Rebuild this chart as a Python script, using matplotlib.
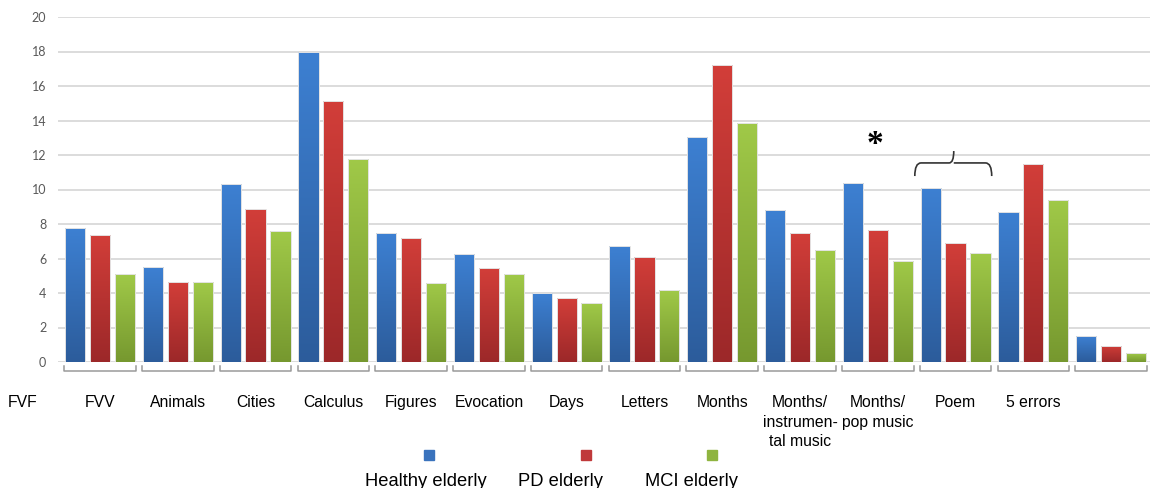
import matplotlib
matplotlib.use('Agg')
import matplotlib.pyplot as plt
import numpy as np
from matplotlib.path import Path
from matplotlib.patches import PathPatch
from matplotlib.lines import Line2D
from matplotlib.colors import LinearSegmentedColormap

# category labels (in the original the label row sits one group to the left)
categories = ['FVF', 'FVV', 'Animals', 'Cities', 'Calculus', 'Figures', 'Evocation', 'Days',
              'Letters', 'Months', 'Months/\ninstrumen-\ntal music', 'Months/\npop music',
              'Poem', '5 errors']
series_names = ['Healthy elderly', 'PD elderly', 'MCI elderly']
healthy = [7.75, 5.5, 10.3, 18.0, 7.45, 6.25, 4.0, 6.72, 13.05, 8.8, 10.37, 10.1, 8.7, 1.5]
pd_elderly = [7.38, 4.62, 8.88, 15.15, 7.2, 5.43, 3.7, 6.1, 17.2, 7.48, 7.63, 6.88, 11.5, 0.94]
mci = [5.08, 4.62, 7.62, 11.75, 4.6, 5.08, 3.42, 4.17, 13.85, 6.5, 5.86, 6.32, 9.4, 0.52]
y_ticks = [0, 2, 4, 6, 8, 10, 12, 14, 16, 18, 20]

# (top colour, bottom colour) for the gradient bars
grads = [('#3d80d2', '#2c5c9b'), ('#d23e39', '#9c2829'), ('#a0c948', '#76982f')]
marker_cols = ['#3a73bd', '#c0393a', '#8fb43f']


def main():
    fig = plt.figure(figsize=(11.5, 4.88), dpi=100)
    ax = fig.add_axes([58 / 1150, 126 / 488, 1 - 58 / 1150, 345 / 488])

    n = len(categories)
    x = np.arange(n)
    width = 0.26
    offsets = [-0.32, 0.0, 0.32]
    grad = np.linspace(1, 0, 256).reshape(-1, 1)

    for vals, off, (top, bot) in zip([healthy, pd_elderly, mci], offsets, grads):
        cmap = LinearSegmentedColormap.from_list('g', [bot, top])
        bars = ax.bar(x + off, vals, width, color='none', edgecolor='#e4e4e4', linewidth=0.7, zorder=3)
        for b in bars:
            bx, by = b.get_x(), b.get_y()
            bw, bh = b.get_width(), b.get_height()
            im = ax.imshow(grad, cmap=cmap, vmin=0, vmax=1, aspect='auto',
                           extent=(bx, bx + bw, by, by + bh), zorder=2, interpolation='bilinear')
            im.set_clip_path(b)

    ax.set_xlim(-0.54, 13.5)
    ax.set_ylim(0, 20)
    ax.set_yticks(y_ticks)
    ax.set_xticks([])
    ax.tick_params(axis='y', length=0, pad=8.5, labelsize=9, labelcolor='#595959')
    for lab in ax.get_yticklabels():
        lab.set_family('Lato')
    ax.grid(axis='y', color='#d6d6d6', linewidth=1.2, zorder=0)
    ax.set_axisbelow(True)
    for s in ax.spines.values():
        s.set_visible(False)

    # group brackets below the axis
    for i in x:
        ax.plot([i - 0.46, i - 0.46, i + 0.46, i + 0.46], [-0.25, -0.52, -0.52, -0.25],
                color='#9a9a9a', lw=1.1, clip_on=False)

    # category labels, shifted one group to the left
    for i, lab in enumerate(categories):
        ax.text(i - 1, -1.9, lab, ha='center', va='top', fontsize=11.3,
                family='Liberation Sans', linespacing=1.4, clip_on=False)

    # significance marks
    ax.text(9.96, 12.6, '*', ha='center', va='center', fontsize=24,
            family='Liberation Serif', fontweight='bold')
    xl, xm, xr = 10.476, 10.977, 11.465
    yb, yh, yt = 10.78, 11.54, 12.23
    verts = [(xl, yb), (xl, yh), (xl + 0.08, yh),
             (xm - 0.06, yh), (xm, yh), (xm, yt),
             (xm, yh), (xm + 0.06, yh),
             (xr - 0.08, yh), (xr, yh), (xr, yb)]
    codes = [Path.MOVETO, Path.CURVE3, Path.CURVE3,
             Path.LINETO, Path.CURVE3, Path.CURVE3,
             Path.MOVETO, Path.LINETO,
             Path.LINETO, Path.CURVE3, Path.CURVE3]
    ax.add_patch(PathPatch(Path(verts, codes), fill=False, edgecolor='#333333', lw=1.2,
                           zorder=4))

    # legend: small squares above the names
    for cx, col in zip([429, 586, 712], marker_cols):
        fig.add_artist(Line2D([cx / 1150], [1 - 455 / 488], marker='s', markersize=6.5,
                              color=col, linestyle='none'))
    for cx, name in zip([426, 560, 692], series_names):
        fig.text(cx / 1150, 0.004, name, ha='center', va='baseline', fontsize=13.2,
                 family='Liberation Sans')

    fig.savefig('out.png', dpi=100)


if __name__ == '__main__':
    main()
